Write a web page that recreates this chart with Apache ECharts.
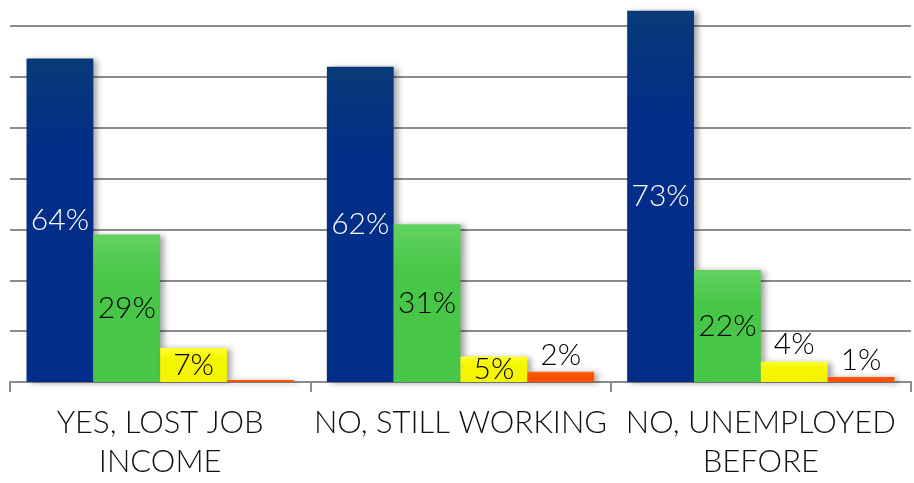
<!DOCTYPE html>
<html>

<head>
    <meta charset="utf-8">
    <title>ECharts</title>
    <script src="https://cdn.jsdelivr.net/npm/echarts@6/dist/echarts.min.js"></script>
    <style>
        html, body { margin: 0; padding: 0; background: #fff; }
    </style>
</head>

<body>
    <div id="main" style="width: 914px;height:483px;"></div>
    <script>
        var myChart = echarts.init(document.getElementById("main"));

        // data
        var categories = ['YES, LOST JOB\nINCOME', 'NO, STILL WORKING', 'NO, UNEMPLOYED\nBEFORE'];
        var seriesA = [63.6, 62, 73];
        var seriesB = [29, 31, 22];
        var seriesC = [6.7, 5, 4];
        var seriesD = [0.4, 2, 1];

        var fontFamily = 'Lato, "DejaVu Sans", sans-serif';

        function grad(top, bottom) {
            return new echarts.graphic.LinearGradient(0, 0, 0, 1, [
                { offset: 0, color: top },
                { offset: 0.3, color: bottom },
                { offset: 1, color: bottom }
            ]);
        }

        function makeSeries(name, values, colors, labelColor, posFn) {
            return {
                name: name,
                type: 'bar',
                clip: false,
                barGap: '0%',
                barCategoryGap: '11%',
                itemStyle: {
                    color: grad(colors[0], colors[1]),
                    shadowColor: 'rgba(0,0,0,0.35)',
                    shadowBlur: 6,
                    shadowOffsetX: 4,
                    shadowOffsetY: 1
                },
                data: values.map(function (v) {
                    var pos = posFn(v);
                    return {
                        value: v,
                        label: {
                            show: v >= 0.5,
                            position: pos,
                            distance: pos === 'top' ? 2 : 5
                        }
                    };
                }),
                label: {
                    formatter: function (p) { return Math.round(p.value) + '%'; },
                    color: labelColor,
                    fontFamily: fontFamily,
                    fontWeight: 300,
                    fontSize: 30,
                    lineHeight: 30
                }
            };
        }

        var option = {
            animation: false,
            grid: {
                left: 10,
                right: 3,
                top: 26,
                bottom: 101
            },
            xAxis: {
                type: 'category',
                data: categories,
                axisLine: { lineStyle: { color: '#8c8c8c', width: 2 } },
                axisTick: { show: true, length: 10, lineStyle: { color: '#8c8c8c', width: 2 } },
                axisLabel: {
                    interval: 0,
                    color: '#111',
                    fontFamily: fontFamily,
                    fontWeight: 300,
                    fontSize: 31,
                    lineHeight: 39,
                    margin: 21
                }
            },
            yAxis: {
                type: 'value',
                min: 0,
                max: 70,
                interval: 10,
                axisLine: { show: false },
                axisTick: { show: false },
                axisLabel: { show: false },
                splitLine: { lineStyle: { color: '#8c8c8c', width: 2 } }
            },
            series: [
                makeSeries('A', seriesA, ['#083a78', '#022d88'], '#fff', function () { return 'inside'; }),
                makeSeries('B', seriesB, ['#62d262', '#47c647'], '#000', function () { return 'inside'; }),
                makeSeries('C', seriesC, ['#ffff33', '#f5f500'], '#000', function (v) { return v >= 5 ? 'inside' : 'top'; }),
                makeSeries('D', seriesD, ['#ff6a10', '#ff4f00'], '#000', function () { return 'top'; })
            ]
        };

        myChart.setOption(option);
    </script>
</body>

</html>
